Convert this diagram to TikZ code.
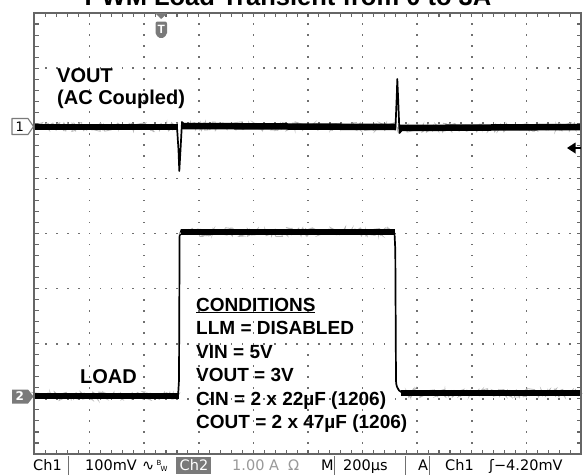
\documentclass[tikz,border=0pt]{standalone}
\usepackage{fontspec}
\setmainfont{Liberation Sans}
\newfontfamily\dejavu{DejaVu Sans}
\usetikzlibrary{decorations.pathmorphing}
\definecolor{framec}{HTML}{666666}
\definecolor{gridc}{HTML}{707070}
\definecolor{markc}{HTML}{7A7A7A}
\tikzset{
 lab/.style={font=\fontsize{20}{22}\selectfont\bfseries, inner sep=0pt, anchor=base west},
 cond/.style={font=\fontsize{19}{22}\selectfont\bfseries, inner sep=0pt, anchor=base west},
 fuzz/.style={line width=0.8pt, gray!55, decorate, decoration={random steps, segment length=1.1pt, amplitude=4.5pt}},
 band/.style={line width=6.5pt, black, line cap=butt},
 edgeline/.style={line width=1.7pt, black, line join=round},
 stat/.style={font=\dejavu\fontsize{14.5}{15}\selectfont, inner sep=0pt, anchor=base west},
 sepline/.style={gridc, line width=1pt},
}
\begin{document}
\begin{tikzpicture}[x=1pt,y=-1pt]
\pgfmathsetseed{7}
\useasboundingbox (0,0) rectangle (587,475);
\fill[white] (0,0) rectangle (587,475);
% title (cut by the top edge, as in the reference)
\node[anchor=base, inner sep=0pt, font=\fontsize{25.5}{26}\selectfont\bfseries] (title) at (288,5) {PWM Load Transient from 0 to 3A};
% grid dots
\foreach \i in {1,...,9}{
  \foreach \k in {1,...,39}{
    \fill[gridc] ({35+\i*54.6-0.85},{13+\k*11.025-0.85}) rectangle +(1.7,1.7);
  }
}
\foreach \j in {1,...,7}{
  \foreach \k in {1,...,49}{
    \fill[gridc] ({35+\k*10.92-0.85},{13+\j*55.125-0.85}) rectangle +(1.7,1.7);
  }
}
% frame ticks
\foreach \k in {1,...,49}{
  \draw[framec, line width=1.1pt] ({35+\k*10.92},13) -- ++(0,4);
  \draw[framec, line width=1.1pt] ({35+\k*10.92},454) -- ++(0,-4);
}
\foreach \k in {1,...,39}{
  \draw[framec, line width=1.1pt] (35,{13+\k*11.025}) -- ++(4,0);
  \draw[framec, line width=1.1pt] (581,{13+\k*11.025}) -- ++(-4,0);
}
% trace 1 (VOUT)
\draw[fuzz] (35,127) -- (177.5,127);
\draw[fuzz] (183,126) -- (396,127);
\draw[fuzz] (400,128) -- (581,127);
\draw[band] (35,127) -- (177.5,127);
\draw[band] (182,126) -- (396,127);
\draw[band] (399,128) -- (581,127);
\draw[edgeline] (177,127) -- (178.5,150) -- (179.3,171) -- (180.5,150) -- (182,122) -- (185,125);
\draw[edgeline] (395.5,127) -- (396.8,95) -- (397.3,79) -- (398.2,100) -- (399.5,133) -- (402,130);
% trace 2 (LOAD)
\draw[fuzz] (35,396) -- (178,396);
\draw[band] (35,396) -- (178.5,396);
\draw[edgeline] (178,397) -- (179,380) -- (179.6,236) -- (181.5,229.5);
\draw[fuzz] (182,232) -- (394,232);
\draw[band] (181,232) -- (395,232);
\draw[edgeline] (394.5,233) -- (395.3,250) -- (396,381) .. controls (396.5,390) and (400,393) .. (406,393);
\draw[fuzz] (403,393) -- (581,393);
\draw[band] (401,393) -- (581,393);
% frame
\draw[framec, line width=2.8pt] (34,13) rectangle (581,454);
% channel markers
\draw[markc, fill=white, line width=1.1pt, line join=round] (12,118.5) -- (28,118.5) -- (33.5,126.5) -- (28,134.5) -- (12,134.5) -- cycle;
\node[inner sep=0pt, font=\dejavu\fontsize{13}{13}\selectfont] (m1) at (19.8,126.5) {1};
\fill[markc, line join=round] (12,389.5) -- (28,389.5) -- (33.5,396.5) -- (28,403.5) -- (12,403.5) -- cycle;
\node[inner sep=0pt, white, font=\dejavu\bfseries\fontsize{12}{12}\selectfont] (m2) at (19.8,396.5) {2};
% trigger position marker
\fill[markc] (155,13) -- (167.5,13) -- (161.2,19) -- cycle;
\fill[markc, rounded corners=2pt] (155.5,21.5) -- (167,21.5) -- (167,35) -- (161.2,39) -- (155.5,35) -- cycle;
\node[inner sep=0pt, white, font=\bfseries\fontsize{12}{12}\selectfont] (tm) at (161.2,29.5) {T};
% trigger level arrow
\fill[black] (567,148) -- (575.5,142.5) -- (575.5,153.5) -- cycle;
\draw[black, line width=2pt] (575,148) -- (581,148);
% annotations
\node[lab] (vout) at (57,82) {VOUT};
\node[lab] (ac) at (57,104) {(AC Coupled)};
\node[lab] (load) at (80,383) {LOAD};
\node[cond] (c1) at (196,311) {\underline{CONDITIONS}};
\node[cond] (c2) at (196,334.5) {LLM = DISABLED};
\node[cond] (c3) at (196,358) {VIN = 5V};
\node[cond] (c4) at (196,381.5) {VOUT = 3V};
\node[cond] (c5) at (196,405) {CIN = 2 x 22µF (1206)};
\node[cond] (c6) at (196,428.5) {COUT = 2 x 47µF (1206)};
% status bar
\node[stat] (s1) at (33,470.5) {Ch1};
\draw[sepline] (68,456) -- (68,475);
\node[stat] (s2) at (85,470.5) {100mV};
\node[stat] (s3) at (142,470.5) {∿};
\node[inner sep=0pt, font=\dejavu\fontsize{7}{7}\selectfont] (s3b) at (159,463) {B};
\node[inner sep=0pt, font=\dejavu\fontsize{7}{7}\selectfont] (s3w) at (164,468.5) {W};
\fill[markc] (176,457) rectangle (211,474);
\node[stat, white] (s4) at (179.5,470.5) {Ch2};
\node[stat, gray!80] (s5) at (232,470.5) {1.00 A};
\node[stat, gray!80] (s6) at (288,470.5) {Ω};
\node[stat] (s7) at (321,470.5) {M};
\draw[sepline] (334,456) -- (334,475);
\node[stat] (s8) at (343,470.5) {200µs};
\draw[sepline] (405,456) -- (405,475);
\node[stat] (s9) at (418,470.5) {A};
\draw[sepline] (429,456) -- (429,475);
\node[stat] (s10) at (445,470.5) {Ch1};
\node[stat] (s11) at (489,470.5) {ʃ−4.20mV};
\end{tikzpicture}
\end{document}
